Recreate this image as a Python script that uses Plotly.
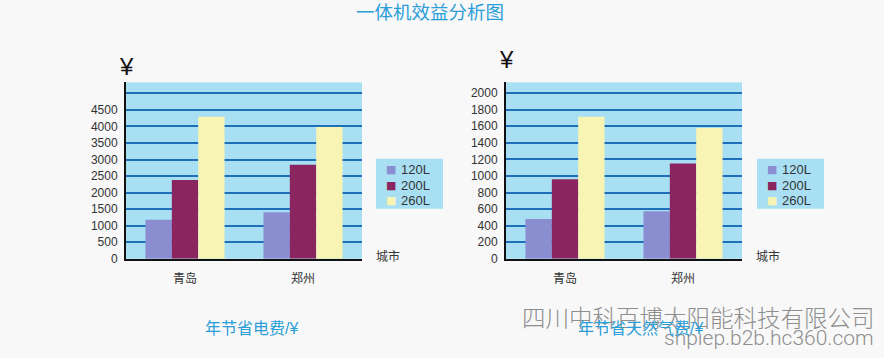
import plotly.graph_objects as go

cities = ["青岛", "郑州"]
series_names = ["120L", "200L", "260L"]
colors = ["#8a8dd0", "#8b2560", "#f7f4b4"]

# Left chart: annual electricity savings (¥)
elec = {
    "120L": [1180, 1410],
    "200L": [2380, 2840],
    "260L": [4290, 3980],
}
elec_ticks = [0, 500, 1000, 1500, 2000, 2500, 3000, 3500, 4000, 4500, 5000]
elec_ticktext = ["0", "500", "1000", "1500", "2000", "2500", "3000", "3500", "4000", "4500", ""]

# Right chart: annual natural gas savings (¥)
gas = {
    "120L": [480, 575],
    "200L": [960, 1150],
    "260L": [1715, 1580],
}
gas_ticks = [0, 200, 400, 600, 800, 1000, 1200, 1400, 1600, 1800, 2000]
gas_ticktext = [str(v) for v in gas_ticks]

title = "一体机效益分析图"
sub_left = "年节省电费/¥"
sub_right = "年节省天然气费/¥"
xlabel = "城市"
ylabel = "¥"
watermark1 = "四川中科百博太阳能科技有限公司"
watermark2 = "shpiep.b2b.hc360.com"

W, H = 884, 358
BG = "#a9dff3"
GRID = "#1c6fb8"
TXT = "#333333"
BLUE_TXT = "#2a9ed8"
FONT = "Liberation Sans, Noto Sans CJK SC, sans-serif"

fig = go.Figure()
for i, s in enumerate(series_names):
    fig.add_trace(go.Bar(x=cities, y=elec[s], name=s, marker_color=colors[i],
                         marker_line_width=0, xaxis="x", yaxis="y",
                         showlegend=False))
for i, s in enumerate(series_names):
    fig.add_trace(go.Bar(x=cities, y=gas[s], name=s, marker_color=colors[i],
                         marker_line_width=0, xaxis="x2", yaxis="y2",
                         showlegend=False))

def px(x):
    return x / W

def py(y):
    return 1 - y / H

ydom = [py(264), py(84)]
axis_common = dict(showline=True, linecolor="#111111", linewidth=2,
                   ticks="", tickfont=dict(size=12, color=TXT, family=FONT))

fig.update_layout(
    width=W, height=H,
    margin=dict(l=0, r=0, t=0, b=0),
    paper_bgcolor="#f8f8f8",
    plot_bgcolor=BG,
    barmode="group",
    bargap=0.33,
    bargroupgap=0,
    font=dict(family=FONT, color=TXT),
    showlegend=False,
    xaxis=dict(domain=[px(126), px(362)], anchor="y", showgrid=False,
               ticklabelstandoff=8, **axis_common),
    yaxis=dict(domain=ydom, anchor="x", range=[0, 5330], tickvals=elec_ticks,
               ticktext=elec_ticktext, showgrid=True, gridcolor=GRID,
               gridwidth=2, zeroline=False, ticklabelstandoff=4, **axis_common),
    xaxis2=dict(domain=[px(506), px(742)], anchor="y2", showgrid=False,
                ticklabelstandoff=8, **axis_common),
    yaxis2=dict(domain=ydom, anchor="x2", range=[0, 2130], tickvals=gas_ticks,
                ticktext=gas_ticktext, showgrid=True, gridcolor=GRID,
                gridwidth=2, zeroline=False, ticklabelstandoff=4, **axis_common),
)

# Custom compact legends (one per chart), built from series_names / colors
legend_boxes = [(376, 443), (757, 824)]
for (lx0, lx1) in legend_boxes:
    fig.add_shape(type="rect", xref="paper", yref="paper",
                  x0=px(lx0), x1=px(lx1), y0=py(213), y1=py(162),
                  fillcolor=BG, line_width=0, layer="below")
    for i, s in enumerate(series_names):
        yc = 173 + i * 16
        fig.add_annotation(xref="paper", yref="paper", x=px(lx0 + 15), y=py(yc),
                           xanchor="center", yanchor="middle", showarrow=False,
                           text="■", font=dict(size=11, color=colors[i],
                                               family="DejaVu Sans"))
        fig.add_annotation(xref="paper", yref="paper", x=px(lx0 + 23), y=py(yc),
                           xanchor="left", yanchor="middle", showarrow=False,
                           text=s, font=dict(size=13, color=TXT, family=FONT))

ann = [
    dict(text=title, x=px(430), y=py(13), font=dict(size=18.5, color=BLUE_TXT)),
    dict(text=ylabel, x=px(126), y=py(68), font=dict(size=24, color="#111111")),
    dict(text=ylabel, x=px(507), y=py(61), font=dict(size=24, color="#111111")),
    dict(text=xlabel, x=px(388), y=py(262), font=dict(size=12, color=TXT)),
    dict(text=xlabel, x=px(768), y=py(262), font=dict(size=12, color=TXT)),
    dict(text=watermark1, x=px(877), y=py(323), xanchor="right",
         font=dict(size=23.5, color="#8e8e8e", family="Noto Sans CJK SC", weight=300)),
    dict(text=watermark2, x=px(876), y=py(345), xanchor="right",
         font=dict(size=21, color="#8e8e8e", family="Roboto", weight=300)),
    dict(text=sub_left, x=px(251.5), y=py(335), font=dict(size=16, color=BLUE_TXT)),
    dict(text=sub_right, x=px(640), y=py(335), font=dict(size=16, color=BLUE_TXT)),
]
for a in ann:
    a.setdefault("xanchor", "center")
    fig.add_annotation(xref="paper", yref="paper", yanchor="middle",
                       showarrow=False, **a)

page_fix = (
    "var d=document.documentElement,b=document.body;"
    "d.style.margin='0';b.style.margin='0';d.style.padding='0';b.style.padding='0';"
    "d.style.height='358px';b.style.height='358px';"
    "d.style.overflow='hidden';b.style.overflow='hidden';"
)
fig.write_html("out.html", config={"displayModeBar": False}, post_script=page_fix)
